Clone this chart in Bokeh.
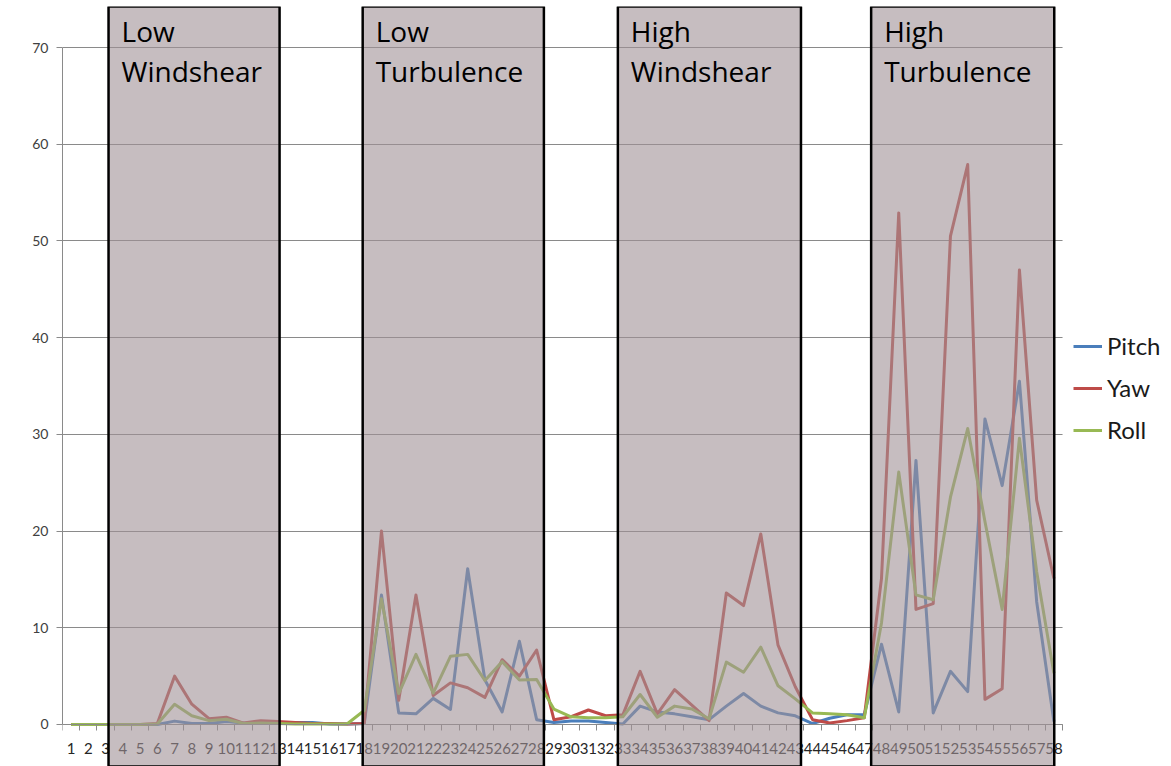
from bokeh.plotting import figure
from bokeh.models import (Range1d, FixedTicker, BoxAnnotation,
                          Legend, LegendItem, ColumnDataSource)
from bokeh.core.properties import value
from bokeh.embed import file_html
from bokeh.resources import INLINE

# ---------------- data ----------------
samples = list(range(1, 59))

pitch = [0, 0, 0, 0, 0, 0, 0.35, 0.1, 0.1, 0.3,
         0.15, 0.1, 0.1, 0.2, 0.2, 0.05, 0.05, 0.1, 13.4, 1.2,
         1.1, 2.7, 1.55, 16.1, 4.6, 1.3, 8.6, 0.5, 0.2, 0.35,
         0.35, 0.2, 0.05, 1.9, 1.3, 1.1, 0.8, 0.5, 1.9, 3.2,
         1.9, 1.2, 0.9, 0.1, 0.65, 1.0, 1.0, 8.3, 1.3, 27.3,
         1.2, 5.5, 3.4, 31.6, 24.7, 35.5, 12.7, 0.3]

yaw = [0, 0, 0, 0, 0, 0.1, 5.0, 2.1, 0.6, 0.75,
       0.15, 0.4, 0.3, 0.2, 0.1, 0.1, 0.05, 0.1, 20.0, 2.5,
       13.4, 3.0, 4.3, 3.8, 2.8, 6.7, 5.0, 7.7, 0.5, 0.8,
       1.5, 0.9, 1.0, 5.5, 1.1, 3.6, 2.0, 0.4, 13.6, 12.3,
       19.7, 8.2, 3.9, 0.5, 0.15, 0.4, 0.7, 15.1, 52.9, 11.9,
       12.5, 50.5, 57.9, 2.6, 3.7, 47.0, 23.2, 15.1]

roll = [0, 0, 0, 0, 0, 0.05, 2.1, 0.9, 0.4, 0.55,
        0.1, 0.15, 0.1, 0.05, 0.05, 0.05, 0.05, 1.45, 13.0, 3.2,
        7.25, 3.25, 7.05, 7.25, 4.55, 6.5, 4.6, 4.65, 1.6, 0.8,
        0.7, 0.7, 0.8, 3.1, 0.75, 1.9, 1.6, 0.6, 6.45, 5.4,
        8.0, 4.0, 2.65, 1.2, 1.1, 1.0, 0.7, 10.5, 26.1, 13.4,
        12.9, 23.5, 30.6, 21.0, 11.9, 29.6, 15.8, 5.3]

series_names = ["Pitch", "Yaw", "Roll"]

# phases (shaded regions) in sample-index units
phase_line1 = ["Low", "Low", "High", "High"]
phase_line2 = ["Windshear", "Turbulence", "Windshear", "Turbulence"]
phase_start = [3.17, 17.91, 32.71, 47.40]
phase_end = [13.09, 28.42, 43.33, 58.02]

y_ticks = [0, 10, 20, 30, 40, 50, 60, 70]

# ---------------- styling ----------------
colors = ["#4A7EBB", "#BE4B48", "#98B954"]
FONT = "Lato"
X_MIN, X_MAX = 0.5, 58.5

p = figure(width=1171, height=766, output_backend="svg", toolbar_location=None,
           x_range=Range1d(X_MIN, 64.82), y_range=Range1d(-4.343, 74.24),
           min_border_left=62, min_border_right=0, min_border_top=6,
           min_border_bottom=0)
p.outline_line_color = None
p.background_fill_color = "white"
p.border_fill_color = "white"

# grid
p.xgrid.visible = False
p.ygrid.ticker = FixedTicker(ticks=y_ticks)
p.ygrid.grid_line_color = "#8a8a8a"
p.ygrid.grid_line_width = 1

# y axis
yax = p.yaxis[0]
yax.ticker = FixedTicker(ticks=y_ticks)
yax.bounds = (0, 70)
yax.axis_line_color = "#8a8a8a"
yax.major_tick_line_color = "#8a8a8a"
yax.major_tick_out = 6
yax.major_tick_in = 0
yax.minor_tick_line_color = None
yax.major_label_standoff = 8
yax.major_label_text_font = FONT
yax.major_label_text_font_size = "14px"
yax.major_label_text_color = "#404040"

# x axis at y = 0
xax = p.xaxis[0]
xax.fixed_location = 0
xax.bounds = (X_MIN, X_MAX)
xax.ticker = FixedTicker(ticks=samples,
                         minor_ticks=[s - 0.5 for s in samples] + [samples[-1] + 0.5])
xax.axis_line_color = "#8a8a8a"
xax.major_tick_line_color = None
xax.major_tick_out = 0
xax.major_tick_in = 0
xax.minor_tick_line_color = "#8a8a8a"
xax.minor_tick_out = 6
xax.minor_tick_in = 0
xax.major_label_standoff = 13
xax.major_label_text_font = FONT
xax.major_label_text_font_size = "15px"
xax.major_label_text_color = "#262626"

# white area right of the plot area (hides grid lines under the legend)
p.add_layout(BoxAnnotation(left=X_MAX, fill_color="white", fill_alpha=1.0,
                           line_color=None, level="glyph"))

# series lines
renderers = []
for name, vals, col in zip(series_names, [pitch, yaw, roll], colors):
    r = p.line(samples, vals, line_color=col, line_width=3, line_join="round")
    renderers.append((name, r))

# shaded phase boxes (drawn over lines and axis)
for s, e in zip(phase_start, phase_end):
    p.add_layout(BoxAnnotation(left=s, right=e, fill_color="#a09196", fill_alpha=0.6,
                               line_color="black", line_width=2.5, line_alpha=1.0))

# phase labels
src = ColumnDataSource(dict(x=phase_start, l1=phase_line1, l2=phase_line2,
                            y1=[71.69] * 4, y2=[67.55] * 4))
for col in ["l1", "l2"]:
    t = p.text(x="x", y="y1" if col == "l1" else "y2", text=col, source=src, x_offset=13,
               text_font=value("Open Sans"), text_font_size="28px", text_color="black",
               text_baseline="alphabetic", text_align="left")
    t.level = "overlay"

# legend
legend = Legend(items=[LegendItem(label=n, renderers=[r]) for n, r in renderers],
                location=(1011, 322), margin=0, padding=0, spacing=13,
                glyph_width=29, glyph_height=20, label_height=20, label_standoff=5,
                label_text_font=FONT, label_text_font_size="24px",
                label_text_color="#1a1a1a",
                border_line_color=None, background_fill_alpha=0)
p.add_layout(legend)

open("out.html", "w").write(file_html(p, INLINE))
